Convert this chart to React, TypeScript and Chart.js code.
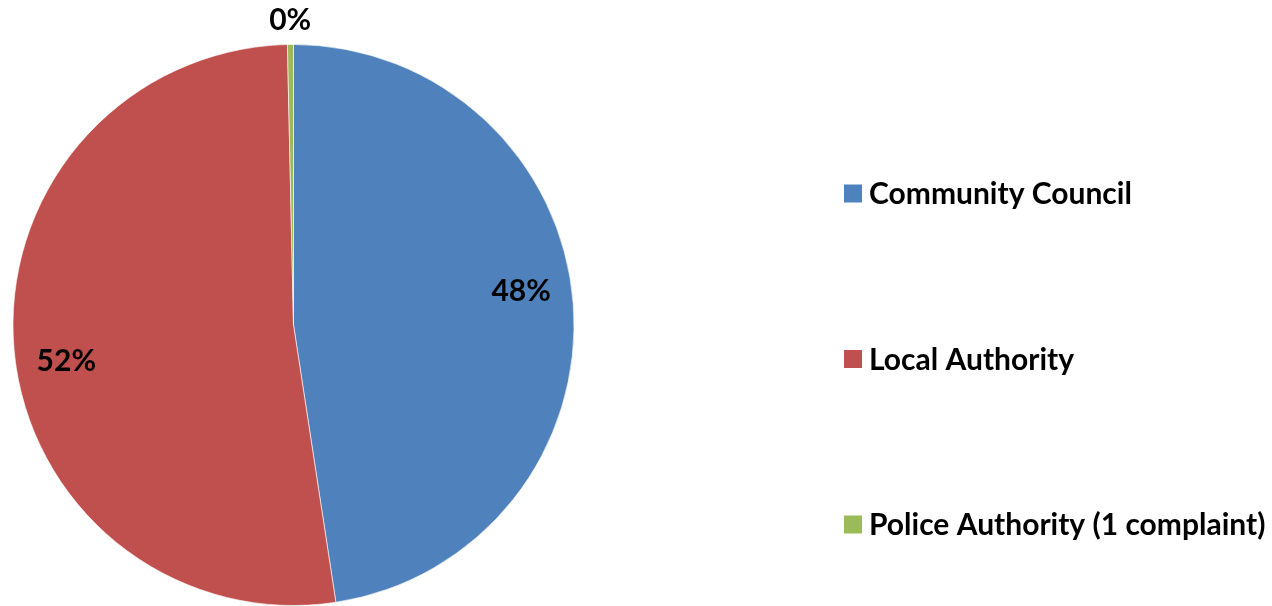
import React, { useEffect, useRef } from "react";
import { Chart, registerables } from "chart.js";

Chart.register(...registerables);

const categories = ["Community Council", "Local Authority", "Police Authority (1 complaint)"];
const complaints = [138, 151, 1];
const colors = ["#4F81BD", "#C0504D", "#9BBB59"];

const FONT = "bold 30px Lato, 'Open Sans', sans-serif";
const LABEL_ANGLE_SHIFT = (-4 * Math.PI) / 180;

const labelsPlugin = {
  id: "pieLabels",
  afterDraw(chart: any) {
    const ctx = chart.ctx;
    const meta = chart.getDatasetMeta(0);
    const data = chart.data.datasets[0].data as number[];
    const total = data.reduce((a, b) => a + b, 0);
    ctx.save();
    ctx.font = FONT;
    ctx.fillStyle = "#000";
    ctx.textAlign = "center";
    ctx.textBaseline = "middle";
    meta.data.forEach((arc: any, i: number) => {
      const { x, y, startAngle, endAngle, outerRadius } = arc.getProps(
        ["x", "y", "startAngle", "endAngle", "outerRadius"],
        true
      );
      const pct = Math.round((data[i] / total) * 100);
      const small = pct < 1;
      const mid = (startAngle + endAngle) / 2 + (small ? 0 : LABEL_ANGLE_SHIFT);
      const r = small ? outerRadius + 24 : outerRadius * 0.82;
      ctx.fillText(pct + "%", x + Math.cos(mid) * r, y + Math.sin(mid) * r);
    });
    // legend
    const lx = 844;
    const ys = [193.5, 359, 524.5];
    categories.forEach((c, i) => {
      ctx.fillStyle = colors[i];
      ctx.fillRect(lx, ys[i] - 9, 18, 18);
      ctx.fillStyle = "#000";
      ctx.textAlign = "left";
      ctx.fillText(c, lx + 25, ys[i] + 1);
    });
    ctx.restore();
  },
};

export default function App() {
  const ref = useRef<HTMLCanvasElement>(null);
  useEffect(() => {
    if (!ref.current) return;
    const chart = new Chart(ref.current, {
      type: "pie",
      data: {
        labels: categories,
        datasets: [
          {
            data: complaints,
            backgroundColor: colors,
            borderColor: "rgba(255,255,255,0.6)",
            borderWidth: 1,
          },
        ],
      },
      options: {
        animation: false,
        responsive: true,
        maintainAspectRatio: false,
        layout: { padding: { left: 12, top: 44, right: 697, bottom: 0 } },
        plugins: { legend: { display: false }, tooltip: { enabled: false } },
      },
      plugins: [labelsPlugin],
    });
    return () => chart.destroy();
  }, []);
  return (
    <div style={{ position: "fixed", left: 0, top: 0, width: 1272, height: 606, background: "#fff" }}>
      <canvas ref={ref} />
    </div>
  );
}
